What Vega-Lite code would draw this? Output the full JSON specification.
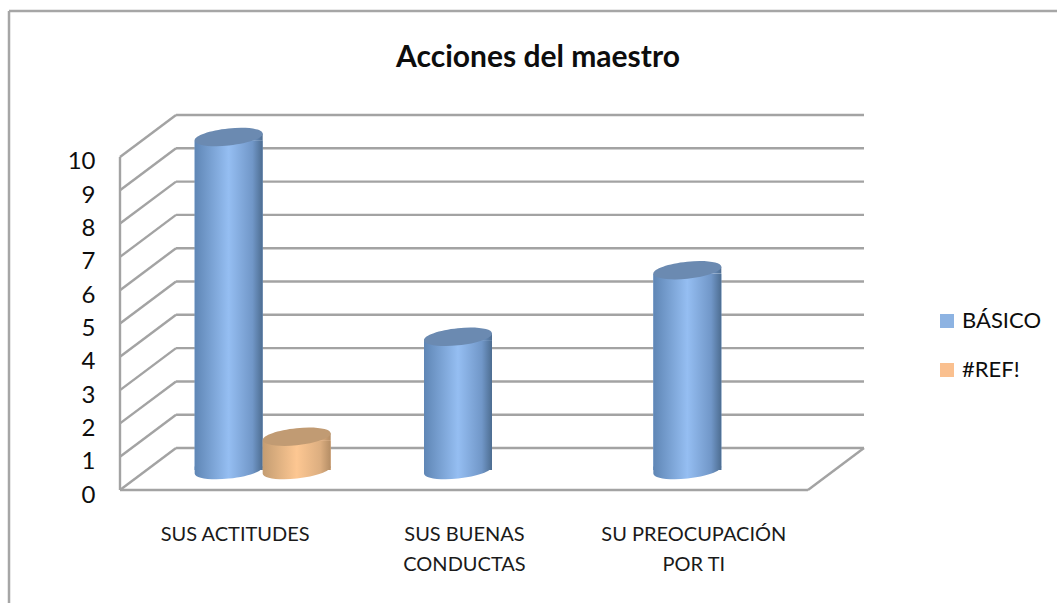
{
"$schema":"https://vega.github.io/schema/vega-lite/v6.json",
"width":744,"height":375,
"autosize":{"type":"none"},
"padding":{"left":120,"top":115,"right":193,"bottom":113},
"background":"white",
"config":{"view":{"stroke":null},"font":"Lato"},
"title":{"text":"Acciones del maestro","font":"Lato","fontSize":30,"fontWeight":"bold","color":"#0d0d0d","anchor":"middle","dx":46,"offset":-63},
"datasets":{
"barras":[
{"categoria":"SUS ACTITUDES","serie":"BÁSICO","valor":10},
{"categoria":"SUS ACTITUDES","serie":"#REF!","valor":1},
{"categoria":"SUS BUENAS CONDUCTAS","serie":"BÁSICO","valor":4},
{"categoria":"SU PREOCUPACIÓN POR TI","serie":"BÁSICO","valor":6}
],
"rejilla":[
{"a":0,"va":0,"b":3,"vb":0},{"a":0,"va":0,"b":0,"vb":10},{"a":3,"va":0,"b":3.2443,"vb":1.26},
{"a":0,"va":0,"b":0.2443,"vb":1.26},{"a":0.2443,"va":1.26,"b":3.2443,"vb":1.26},
{"a":0,"va":1,"b":0.2443,"vb":2.26},{"a":0.2443,"va":2.26,"b":3.2443,"vb":2.26},
{"a":0,"va":2,"b":0.2443,"vb":3.26},{"a":0.2443,"va":3.26,"b":3.2443,"vb":3.26},
{"a":0,"va":3,"b":0.2443,"vb":4.26},{"a":0.2443,"va":4.26,"b":3.2443,"vb":4.26},
{"a":0,"va":4,"b":0.2443,"vb":5.26},{"a":0.2443,"va":5.26,"b":3.2443,"vb":5.26},
{"a":0,"va":5,"b":0.2443,"vb":6.26},{"a":0.2443,"va":6.26,"b":3.2443,"vb":6.26},
{"a":0,"va":6,"b":0.2443,"vb":7.26},{"a":0.2443,"va":7.26,"b":3.2443,"vb":7.26},
{"a":0,"va":7,"b":0.2443,"vb":8.26},{"a":0.2443,"va":8.26,"b":3.2443,"vb":8.26},
{"a":0,"va":8,"b":0.2443,"vb":9.26},{"a":0.2443,"va":9.26,"b":3.2443,"vb":9.26},
{"a":0,"va":9,"b":0.2443,"vb":10.26},{"a":0.2443,"va":10.26,"b":3.2443,"vb":10.26},
{"a":0,"va":10,"b":0.2443,"vb":11.26},{"a":0.2443,"va":11.26,"b":3.2443,"vb":11.26}
],
"marco":[
{"a":-0.484,"va":14.38,"b":4.086,"vb":14.38},
{"a":-0.484,"va":14.38,"b":-0.484,"vb":-3.39}
]
},
"resolve":{"scale":{"x":"independent","y":"independent"}},
"layer":[
{"data":{"name":"marco"},"mark":{"type":"rule","color":"#a6a6a6","strokeWidth":2.5},
"encoding":{"x":{"field":"a","type":"quantitative","axis":null,"scale":{"domain":[0,3.2443],"nice":false,"zero":false}},"x2":{"field":"b"},"y":{"field":"va","type":"quantitative","axis":null,"scale":{"domain":[0,11.26],"nice":false,"zero":false}},"y2":{"field":"vb"}}},
{"data":{"name":"rejilla"},"mark":{"type":"rule","color":"#a3a3a3","strokeWidth":2.4},
"encoding":{
"x":{"field":"a","type":"quantitative","scale":{"domain":[0,3.2443],"nice":false,"zero":false},
"axis":{"title":null,"values":[0.5,1.5,2.5],"ticks":false,"domain":false,"grid":false,"labelFontSize":20,"labelColor":"#1a1a1a","labelPadding":34,"labelLineHeight":30,"labelLimit":0,"labelFlush":false,"labelBound":false,"labelOverlap":false,
"labelExpr":"datum.value==0.5?'SUS ACTITUDES':datum.value==1.5?['SUS BUENAS','CONDUCTAS']:['SU PREOCUPACIÓN','POR TI']"}},
"x2":{"field":"b"},
"y":{"field":"va","type":"quantitative","scale":{"domain":[0,11.26],"nice":false,"zero":false},
"axis":{"title":null,"values":[0,1,2,3,4,5,6,7,8,9,10],"ticks":false,"domain":false,"grid":false,"labelFontSize":24,"labelColor":"#0d0d0d","labelPadding":25,"labelOffset":5,"labelBound":false,"labelOverlap":false}},
"y2":{"field":"vb"}}},
{
"data":{"name":"barras"},
"encoding":{
"x":{"field":"categoria","type":"nominal","sort":null,"axis":null,"scale":{"domain":["SUS ACTITUDES","SUS BUENAS CONDUCTAS","SU PREOCUPACIÓN POR TI"],"range":[28,716],"paddingInner":0.407,"paddingOuter":0.2035}},
"xOffset":{"field":"serie","type":"nominal","sort":null,"scale":{"domain":["BÁSICO","#REF!"]}},
"y":{"field":"valor","type":"quantitative","axis":null,"stack":null,"scale":{"domain":[-0.6,10.66],"nice":false,"zero":false}}
},
"layer":[
{"mark":{"type":"bar","yOffset":3.5,"y2Offset":-3.5},
"encoding":{"color":{"field":"serie","type":"nominal","sort":null,"scale":{"domain":["BÁSICO","#REF!"],"range":["#8db3e2","#fac08f"]},
"legend":{"title":null,"orient":"none","legendX":816,"legendY":195,"symbolType":"square","symbolSize":196,"rowPadding":27,"labelFontSize":22,"labelColor":"#0d0d0d","labelOffset":4,"symbolStrokeWidth":0}}}},
{"mark":{"type":"point","shape":"M-1,-0.1L1,-0.1A1.005,0.25,-6,1,1,-1,0.1Z","size":4624,"filled":true,"opacity":1},
"encoding":{"y":{"datum":0,"type":"quantitative"},
"fill":{"condition":{"test":"datum.serie==='BÁSICO'","value":{"gradient":"linear","x1":0,"y1":0,"x2":1,"y2":0,"stops":[{"offset":0,"color":"#5f86b5"},{"offset":0.5,"color":"#95bef2"},{"offset":0.85,"color":"#7197c8"},{"offset":1,"color":"#4d6d91"}]}},"value":{"gradient":"linear","x1":0,"y1":0,"x2":1,"y2":0,"stops":[{"offset":0,"color":"#c49d72"},{"offset":0.5,"color":"#fdc792"},{"offset":0.85,"color":"#dcae80"},{"offset":1,"color":"#b48d65"}]}}}},
{"mark":{"type":"bar","yOffset":3.5,"y2Offset":-3.5},
"encoding":{
"fill":{"condition":{"test":"datum.serie==='BÁSICO'","value":{"gradient":"linear","x1":0,"y1":0,"x2":1,"y2":0,"stops":[{"offset":0,"color":"#5f86b5"},{"offset":0.5,"color":"#95bef2"},{"offset":0.85,"color":"#7197c8"},{"offset":1,"color":"#4d6d91"}]}},"value":{"gradient":"linear","x1":0,"y1":0,"x2":1,"y2":0,"stops":[{"offset":0,"color":"#c49d72"},{"offset":0.5,"color":"#fdc792"},{"offset":0.85,"color":"#dcae80"},{"offset":1,"color":"#b48d65"}]}}}},
{"mark":{"type":"point","shape":"M-1,0.1L1,-0.1L1,0.1Z","size":4624,"filled":true,"opacity":1},
"encoding":{
"fill":{"condition":{"test":"datum.serie==='BÁSICO'","value":{"gradient":"linear","x1":0,"y1":0,"x2":1,"y2":0,"stops":[{"offset":0,"color":"#5f86b5"},{"offset":0.5,"color":"#95bef2"},{"offset":0.85,"color":"#7197c8"},{"offset":1,"color":"#4d6d91"}]}},"value":{"gradient":"linear","x1":0,"y1":0,"x2":1,"y2":0,"stops":[{"offset":0,"color":"#c49d72"},{"offset":0.5,"color":"#fdc792"},{"offset":0.85,"color":"#dcae80"},{"offset":1,"color":"#b48d65"}]}}}},
{"mark":{"type":"point","shape":"M-1,0.1A1.005,0.25,-6,1,1,1,-0.1A1.005,0.25,-6,1,1,-1,0.1Z","size":4624,"filled":true,"opacity":1},
"encoding":{"fill":{"condition":{"test":"datum.serie==='BÁSICO'","value":"#6b8ab1"},"value":"#c19b73"}}}
]
}
]
}
